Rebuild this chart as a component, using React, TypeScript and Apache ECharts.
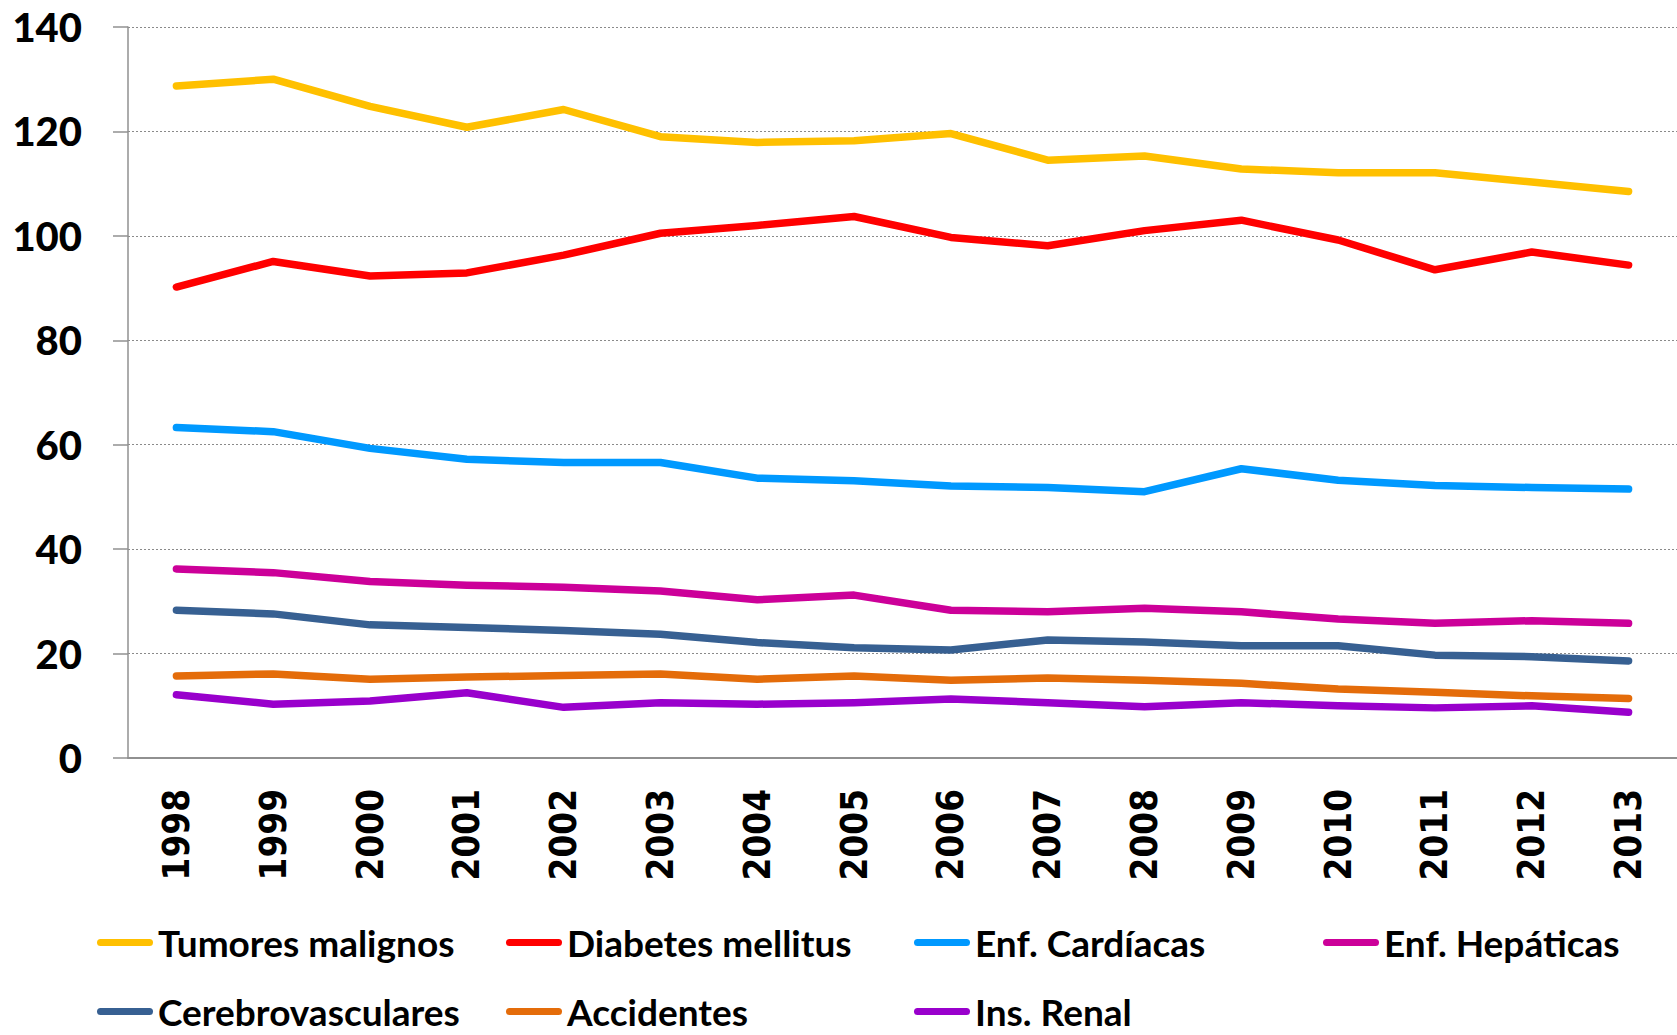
import React, { useEffect, useRef } from "react";
import * as echarts from "echarts";

const years = ["1998","1999","2000","2001","2002","2003","2004","2005","2006","2007","2008","2009","2010","2011","2012","2013"];
const yTicks = { min: 0, max: 140, interval: 20 };

const seriesNames = ["Tumores malignos","Diabetes mellitus","Enf. Cardíacas","Enf. Hepáticas","Cerebrovasculares","Accidentes","Ins. Renal"];
const seriesColors = ["#FFC000","#FF0000","#0099FF","#CC0099","#376092","#E46C0A","#9900CC"];

const tumores = [128.7,130.0,124.8,120.8,124.2,119.0,117.9,118.2,119.6,114.5,115.3,112.8,112.1,112.1,110.3,108.5];
const diabetes = [90.2,95.1,92.3,92.9,96.3,100.5,102.0,103.7,99.7,98.1,101.0,103.0,99.2,93.5,96.9,94.4];
const cardiacas = [63.3,62.5,59.3,57.2,56.6,56.6,53.6,53.1,52.1,51.8,51.0,55.4,53.2,52.2,51.8,51.5];
const hepaticas = [36.2,35.5,33.8,33.1,32.7,32.0,30.3,31.2,28.3,28.0,28.7,28.0,26.6,25.8,26.3,25.8];
const cerebro = [28.3,27.6,25.5,25.0,24.4,23.7,22.1,21.1,20.7,22.6,22.2,21.5,21.5,19.7,19.4,18.6];
const accidentes = [15.7,16.1,15.1,15.5,15.8,16.1,15.1,15.7,14.9,15.3,14.9,14.3,13.2,12.6,11.9,11.4];
const renal = [12.1,10.3,10.9,12.5,9.7,10.6,10.3,10.6,11.3,10.6,9.8,10.6,10.0,9.6,10.0,8.75];

const allData = [tumores, diabetes, cardiacas, hepaticas, cerebro, accidentes, renal];

// legend layout: [left, top] per item
const legendPos = [
  [97, 924], [506, 924], [914, 924], [1323, 924],
  [97, 993], [506, 993], [914, 993],
];

const iconPath = "path://M3.5,0 L52.5,0 A3.5,3.5 0 0 1 52.5,7 L3.5,7 A3.5,3.5 0 0 1 3.5,0 Z";

export default function App() {
  const ref = useRef<HTMLDivElement>(null);
  useEffect(() => {
    if (!ref.current) return;
    const chart = echarts.init(ref.current, null, { renderer: "svg" });
    const option: any = {
      animation: false,
      backgroundColor: "#ffffff",
      grid: { left: 128, top: 27, right: -17, bottom: 277, containLabel: false },
      xAxis: {
        type: "category",
        data: years,
        boundaryGap: true,
        axisLine: { show: true, lineStyle: { color: "#909090", width: 2 } },
        axisTick: { show: false },
        axisLabel: {
          rotate: 90,
          margin: 31,
          fontFamily: "'Liberation Sans Narrow', 'DejaVu Sans Condensed', sans-serif",
          fontWeight: "bold",
          fontSize: 36.5,
          color: "#000000",
        },
        splitLine: { show: false },
      },
      yAxis: {
        type: "value",
        min: yTicks.min,
        max: yTicks.max,
        interval: yTicks.interval,
        axisLine: { show: true, lineStyle: { color: "#909090", width: 1.5 } },
        axisTick: { show: true, length: 15, lineStyle: { color: "#909090", width: 1.5 } },
        axisLabel: {
          margin: 46,
          fontFamily: "Lato, sans-serif",
          fontWeight: 900,
          fontSize: 40,
          color: "#000000",
        },
        splitLine: { show: true, lineStyle: { color: "#8a8a8a", width: 1.2, type: [2, 2] } },
      },
      legend: seriesNames.map((name, i) => ({
        show: true,
        data: [name],
        left: legendPos[i][0],
        top: legendPos[i][1],
        padding: 0,
        itemWidth: 56,
        itemHeight: 7,
        icon: iconPath,
        textStyle: {
          fontFamily: "Lato, sans-serif",
          fontWeight: "bold",
          fontSize: 37,
          lineHeight: 37,
          color: "#000000",
        },
      })),
      series: seriesNames.map((name, i) => ({
        name,
        type: "line",
        data: allData[i],
        showSymbol: false,
        symbol: "none",
        color: seriesColors[i],
        lineStyle: { width: 7.5, color: seriesColors[i], cap: "round", join: "round" },
        itemStyle: { color: seriesColors[i] },
      })),
    };
    chart.setOption(option);
    return () => chart.dispose();
  }, []);
  return (
    <div
      ref={ref}
      style={{ position: "fixed", left: 0, top: 0, width: 1677, height: 1035, background: "#fff" }}
    />
  );
}
